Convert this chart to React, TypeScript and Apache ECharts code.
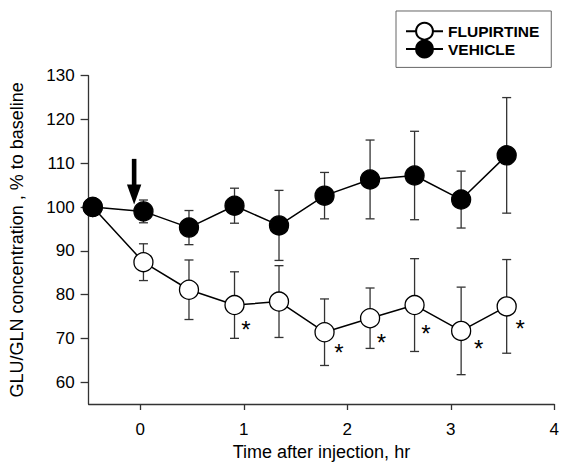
import React, { useEffect, useRef } from "react";
import * as echarts from "echarts";

// Time after injection (hr) of each sample
const timeHr = [-0.46, 0.03, 0.47, 0.91, 1.34, 1.78, 2.22, 2.65, 3.1, 3.54];
// GLU/GLN concentration, % to baseline (mean and SEM)
const flupirtine = [100, 87.4, 81.1, 77.6, 78.4, 71.4, 74.6, 77.6, 71.7, 77.3];
const flupirtineErr = [0, 4.2, 6.8, 7.6, 8.2, 7.6, 6.9, 10.6, 10.0, 10.7];
const vehicle = [100, 99.0, 95.3, 100.3, 95.8, 102.6, 106.3, 107.2, 101.7, 111.8];
const vehicleErr = [0, 2.6, 3.9, 4.0, 8.0, 5.3, 9.0, 10.1, 6.5, 13.2];
// significance asterisks (data coordinates)
const starX = [1.02, 1.92, 2.33, 2.76, 3.27, 3.67];
const starY = [73.2, 67.8, 70.1, 72.2, 68.8, 73.3];
// injection arrow: x, top value, tip value
const injectionArrow = [[-0.06, 111, 100.6]];

const xTicks = [0, 1, 2, 3, 4];
const yTicks = [60, 70, 80, 90, 100, 110, 120, 130];
const seriesNames = ["FLUPIRTINE", "VEHICLE"];

const FONT = 'Arial, "Liberation Sans", Helvetica, sans-serif';

export default function App() {
  const ref = useRef<HTMLDivElement>(null);

  useEffect(() => {
    if (!ref.current) return;
    const chart = echarts.init(ref.current, null, { renderer: "svg" });

    const errRenderer = (params: any, api: any) => {
      const x = api.value(0);
      const y = api.value(1);
      const e = api.value(2);
      if (!e) return null;
      const top = api.coord([x, y + e]);
      const bot = api.coord([x, y - e]);
      const hw = 4.5;
      const style = { stroke: "#333", lineWidth: 1.3 };
      return {
        type: "group",
        children: [
          { type: "line", shape: { x1: top[0], y1: top[1], x2: bot[0], y2: bot[1] }, style },
          { type: "line", shape: { x1: top[0] - hw, y1: top[1], x2: top[0] + hw, y2: top[1] }, style },
          { type: "line", shape: { x1: bot[0] - hw, y1: bot[1], x2: bot[0] + hw, y2: bot[1] }, style },
        ],
      };
    };

    chart.setOption({
      animation: false,
      grid: { left: 86, right: 7, top: 75.7, bottom: 65 },
      legend: {
        data: seriesNames,
        orient: "vertical",
        left: 396,
        top: 11,
        padding: [10.8, 12, 9, 9],
        itemWidth: 37,
        itemHeight: 21,
        itemGap: -1,
        itemTextGap: 9,
        borderColor: "#666",
        borderWidth: 1,
        textStyle: { fontFamily: FONT, fontWeight: "bold", fontSize: 15.5, color: "#000" },
      },
      xAxis: {
        type: "value",
        min: -0.5,
        max: 4,
        name: "Time after injection, hr",
        nameLocation: "middle",
        nameGap: 38.7,
        nameMoveOverlap: false,
        nameTextStyle: { fontFamily: FONT, fontSize: 18, color: "#000" },
        axisLine: { show: true, onZero: false, lineStyle: { color: "#333", width: 1.3 } },
        axisTick: { show: true, length: 6, customValues: xTicks, lineStyle: { color: "#333", width: 1.3 } },
        axisLabel: { customValues: xTicks, fontFamily: FONT, fontSize: 17, color: "#000", margin: 17 },
        splitLine: { show: false },
      },
      yAxis: {
        type: "value",
        min: 55,
        max: 130,
        name: "GLU/GLN concentration , % to baseline",
        nameLocation: "middle",
        nameGap: 62.6,
        nameMoveOverlap: false,
        nameTextStyle: { fontFamily: FONT, fontSize: 18, color: "#000" },
        axisLine: { show: true, onZero: false, lineStyle: { color: "#333", width: 1.3 } },
        axisTick: { show: true, length: 8, customValues: yTicks, lineStyle: { color: "#333", width: 1.3 } },
        axisLabel: { customValues: yTicks, fontFamily: FONT, fontSize: 17, color: "#000", margin: 14 },
        splitLine: { show: false },
      },
      series: [
        {
          name: "flupirtine-err",
          type: "custom",
          z: 1,
          renderItem: errRenderer,
          encode: { x: 0, y: 1 },
          data: timeHr.map((t, i) => [t, flupirtine[i], flupirtineErr[i]]),
        },
        {
          name: "vehicle-err",
          type: "custom",
          z: 1,
          renderItem: errRenderer,
          encode: { x: 0, y: 1 },
          data: timeHr.map((t, i) => [t, vehicle[i], vehicleErr[i]]),
        },
        {
          name: seriesNames[0],
          type: "line",
          z: 2,
          symbol: "circle",
          symbolSize: 19,
          lineStyle: { color: "#000", width: 1.5 },
          itemStyle: { color: "#fff", borderColor: "#000", borderWidth: 1.3 },
          data: timeHr.map((t, i) => [t, flupirtine[i]]),
        },
        {
          name: seriesNames[1],
          type: "line",
          z: 3,
          symbol: "circle",
          symbolSize: 19,
          lineStyle: { color: "#000", width: 1.5 },
          itemStyle: { color: "#000", borderColor: "#000", borderWidth: 1.3 },
          data: timeHr.map((t, i) => [t, vehicle[i]]),
        },
        {
          name: "stars",
          type: "custom",
          z: 4,
          encode: { x: 0, y: 1 },
          data: starX.map((x, i) => [x, starY[i]]),
          renderItem: (params: any, api: any) => {
            const c = api.coord([api.value(0), api.value(1)]);
            return {
              type: "text",
              x: c[0],
              y: c[1] + 5,
              style: {
                text: "*",
                fontFamily: FONT,
                fontSize: 24,
                fill: "#000",
                align: "center",
                verticalAlign: "middle",
              },
            };
          },
        },
        {
          name: "arrow",
          type: "custom",
          z: 5,
          encode: { x: 0, y: 1 },
          data: injectionArrow,
          renderItem: (params: any, api: any) => {
            const p1 = api.coord([api.value(0), api.value(1)]);
            const p2 = api.coord([api.value(0), api.value(2)]);
            const headLen = 20;
            const headW = 14.4;
            const shaftW = 4.6;
            return {
              type: "group",
              children: [
                {
                  type: "rect",
                  shape: { x: p1[0] - shaftW / 2, y: p1[1], width: shaftW, height: p2[1] - headLen - p1[1] + 1 },
                  style: { fill: "#000" },
                },
                {
                  type: "polygon",
                  shape: {
                    points: [
                      [p2[0] - headW / 2, p2[1] - headLen],
                      [p2[0] + headW / 2, p2[1] - headLen],
                      [p2[0], p2[1]],
                    ],
                  },
                  style: { fill: "#000" },
                },
              ],
            };
          },
        },
      ],
    });

    return () => chart.dispose();
  }, []);

  return (
    <div
      ref={ref}
      style={{ position: "fixed", left: 0, top: 0, width: 562, height: 469, background: "#fff" }}
    />
  );
}
